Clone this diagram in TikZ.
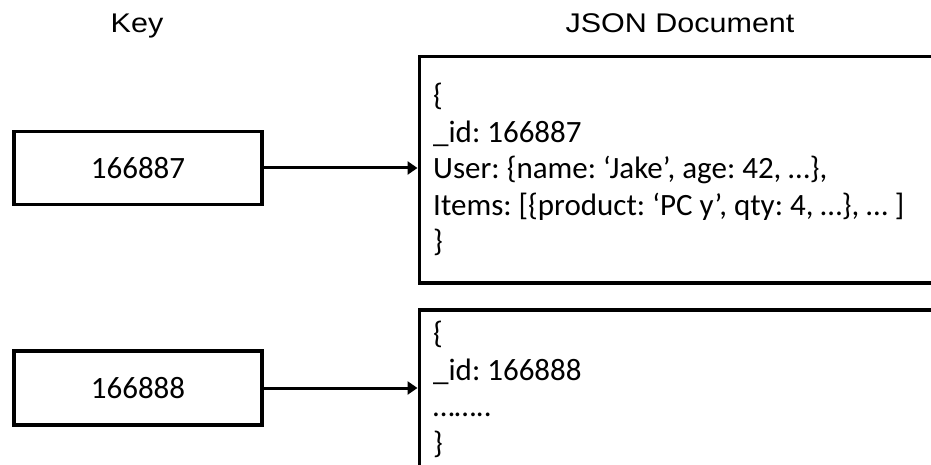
\documentclass[tikz,border=0pt]{standalone}
\usepackage{fontspec}
\setmainfont{Carlito}
\newfontfamily\headfont[FakeStretch=1.13]{Liberation Sans}
\frenchspacing
\usetikzlibrary{positioning, arrows.meta}
\tikzset{
  keybox/.style={
    draw, line width=3.5pt, minimum width=248pt, minimum height=73pt,
    inner sep=0pt, font=\fontsize{31}{36.5}\selectfont
  },
  docbox/.style={draw, line width=3.5pt, minimum width=600pt, inner sep=0pt, anchor=north west},
  doctext/.style={align=left, inner sep=0pt, anchor=base west, font=\fontsize{31}{36.5}\selectfont},
  header/.style={anchor=base, font=\headfont\fontsize{27}{32}\selectfont},
  link/.style={line width=3pt, -{Triangle[length=10pt, width=13pt]}},
}

\begin{document}
\begin{tikzpicture}[x=1pt, y=-1pt]
  \useasboundingbox (0,0) rectangle (931,465);
  \clip (0,0) rectangle (931,465);
  % headings
  \node[header] (keyhead) at (137,32.5) {Key};
  \node[header] (dochead) at (680,32.5) {JSON Document};
  % keys
  \node[keybox] (k1) at (138,168) {166887};
  \node[keybox, minimum height=74pt] (k2) at (138,388) {166888};
  % documents (base anchor sits on the last line)
  \node[docbox, minimum height=226pt] (d1) at (417.5,55) {};
  \node[docbox, minimum height=200pt] (d2) at (417.5,308) {};
  \node[doctext] (t1) at (433,251.5) {\{\\
    \_id: 166887\\
    User: \{name: ‘Jake’, age: 42, …\},\\
    Items: [\{product: ‘PC y’, qty: 4, …\}, … ]\\
    \}};
  \node[doctext] (t2) at (433,453) {\{\\
    \_id: 166888\\
    ……..\\
    \}};

  \draw[link] (k1.east) -- (k1.east -| d1.west);
  \draw[link] (k2.east) -- (k2.east -| d2.west);
\end{tikzpicture}
\end{document}
